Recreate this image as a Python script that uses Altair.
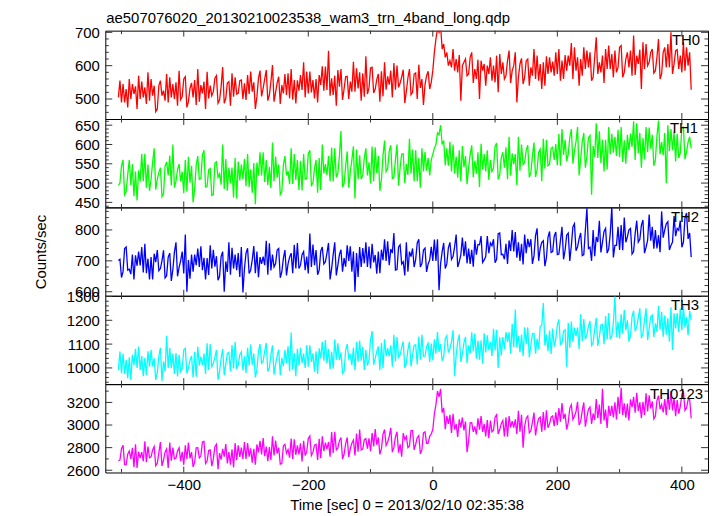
import altair as alt
import pandas as pd

# ---------------- data ----------------
# two samples per 5 s bin: a first sample at t = -505 + 5k and a second one 2.5 s later
T_START = -505
T_STEP = 5

th0 = [505, 545, 490, 560, 500, 538, 470, 552, 505, 580, 495, 540, 462, 555, 510, 575, 490, 545, 500, 585,
       498, 560, 475, 548, 505, 590, 492, 552, 470, 540, 510, 570, 488, 596, 502, 548, 480, 565, 515, 555,
       500, 572, 515, 550, 470, 585, 508, 560, 495, 602, 520, 548, 485, 575, 512, 590, 498, 556, 525, 610,
       505, 582, 520, 560, 490, 598, 525, 645, 510, 570, 480, 590, 530, 568, 500, 612, 522, 580, 495, 628,
       515, 595, 530, 575, 492, 610, 528, 585, 505, 600, 535, 566, 488, 590, 520, 575, 500, 560, 482, 570,
       530, 585, 680, 720, 665, 640, 600, 650, 585, 632, 495, 620, 575, 640, 548, 618, 500, 605, 540, 625,
       555, 630, 520, 610, 570, 645, 548, 600, 490, 622, 565, 615, 540, 650, 560, 605, 530, 628, 575, 612,
       570, 650, 555, 632, 585, 668, 560, 625, 540, 655, 590, 640, 565, 685, 575, 630, 548, 660, 590, 645,
       580, 660, 565, 640, 595, 690, 572, 648, 530, 665, 600, 640, 578, 680, 560, 655, 595, 700, 575, 648,
       590, 670, 585, 640, 528]
th0_mid = [555, 490, 530, 475, 545, 515, 570, 500, 535, 485, 560, 510, 470, 540, 525, 495, 565, 505, 550, 480,
           507, 567, 492, 532, 557, 482, 542, 517, 582, 502, 522, 562, 497, 537, 487, 552, 577, 507, 517, 557,
           547, 497, 582, 522, 507, 562, 532, 587, 512, 552, 492, 567, 542, 517, 577, 502, 557, 487, 572, 527,
           582, 517, 557, 502, 572, 542, 597, 527, 562, 512, 587, 537, 497, 567, 552, 522, 592, 532, 577, 507,
           533, 593, 518, 558, 583, 508, 568, 543, 608, 528, 548, 588, 523, 563, 513, 578, 603, 533, 543, 583,
           550, 640, 710, 700, 650, 625, 615, 595, 620, 580, 600, 610, 570, 625, 590, 560, 615, 585, 600, 575,
           600, 550, 635, 575, 560, 615, 585, 640, 565, 605, 545, 620, 595, 570, 630, 555, 610, 540, 625, 580,
           640, 575, 615, 560, 630, 600, 655, 585, 620, 570, 645, 595, 555, 625, 610, 580, 650, 590, 635, 565,
           595, 655, 580, 620, 645, 570, 630, 605, 670, 590, 610, 650, 585, 625, 575, 640, 665, 595, 605, 645,
           630, 580, 655, 600]

th1 = [500, 545, 470, 560, 495, 530, 455, 575, 505, 548, 480, 590, 510, 540, 465, 555, 520, 600, 488, 535,
       505, 560, 478, 545, 450, 570, 510, 585, 492, 538, 470, 555, 515, 600, 485, 540, 500, 565, 460, 548,
       510, 575, 490, 552, 445, 580, 520, 560, 495, 605, 505, 548, 478, 570, 520, 590, 498, 560, 482, 575,
       512, 585, 500, 560, 475, 600, 525, 570, 505, 590, 515, 635, 490, 582, 528, 595, 460, 572, 510, 590,
       520, 595, 505, 570, 480, 610, 530, 582, 512, 600, 540, 575, 500, 615, 525, 585, 505, 590, 530, 565,
       520, 575, 600, 650, 610, 590, 545, 600, 525, 585, 505, 570, 540, 598, 515, 580, 490, 575, 530, 560,
       530, 595, 510, 580, 540, 620, 520, 575, 495, 600, 548, 585, 515, 605, 535, 580, 505, 612, 545, 590,
       560, 628, 545, 612, 575, 640, 550, 608, 520, 630, 570, 618, 470, 655, 565, 612, 530, 645, 575, 620,
       570, 645, 555, 625, 585, 660, 560, 630, 540, 645, 580, 625, 560, 662, 575, 630, 500, 640, 585, 628,
       565, 645, 580, 620, 590]
th1_mid = [494, 560, 478, 522, 549, 466, 533, 505, 576, 488, 510, 554, 483, 527, 472, 544, 571, 494, 505, 549,
           529, 474, 568, 501, 485, 546, 512, 573, 490, 535, 468, 551, 524, 496, 562, 480, 540, 463, 556, 507,
           563, 492, 536, 475, 553, 519, 580, 503, 542, 487, 569, 514, 470, 547, 531, 497, 575, 508, 558, 481,
           510, 576, 494, 538, 565, 482, 549, 521, 592, 504, 526, 570, 499, 543, 488, 560, 587, 510, 521, 565,
           554, 499, 593, 526, 510, 571, 537, 598, 515, 560, 493, 576, 549, 521, 587, 505, 565, 488, 581, 532,
           560, 590, 630, 625, 600, 546, 607, 530, 569, 514, 596, 541, 497, 574, 558, 524, 602, 535, 585, 508,
           538, 604, 522, 566, 593, 510, 577, 549, 620, 532, 554, 598, 527, 571, 516, 588, 615, 538, 549, 593,
           601, 546, 640, 573, 557, 618, 584, 645, 562, 607, 540, 623, 596, 568, 634, 552, 612, 535, 628, 579,
           638, 567, 611, 550, 628, 594, 655, 578, 617, 562, 644, 589, 545, 622, 606, 572, 650, 583, 633, 556,
           578, 644, 562, 606]

th2 = [705, 665, 745, 670, 720, 640, 730, 685, 755, 660, 712, 640, 735, 675, 700, 645, 725, 672, 760, 650,
       700, 785, 600, 720, 665, 740, 680, 710, 640, 750, 675, 715, 650, 730, 600, 760, 655, 720, 670, 745,
       598, 725, 670, 748, 660, 712, 690, 765, 655, 720, 680, 740, 645, 735, 690, 712, 660, 758, 675, 720,
       670, 788, 680, 735, 655, 745, 690, 725, 640, 760, 685, 720, 665, 750, 700, 730, 600, 745, 680, 760,
       680, 755, 695, 730, 660, 770, 700, 738, 790, 672, 745, 690, 760, 665, 740, 705, 770, 680, 735, 690,
       745, 700, 770, 605, 730, 690, 760, 705, 745, 680, 775, 715, 740, 690, 768, 720, 752, 695, 780, 725,
       770, 705, 790, 720, 755, 690, 800, 730, 760, 700, 785, 725, 770, 690, 805, 740, 765, 710, 795, 730,
       780, 720, 810, 735, 790, 700, 820, 745, 790, 720, 870, 740, 800, 715, 830, 760, 795, 725, 875, 750,
       810, 735, 840, 760, 800, 730, 830, 770, 815, 725, 850, 765, 800, 740, 860, 775, 820, 735, 845, 780,
       830, 760, 855, 790, 712]
th2_mid = [701, 646, 740, 673, 657, 718, 684, 745, 662, 707, 640, 723, 696, 668, 734, 652, 712, 635, 728, 679,
           730, 659, 703, 642, 720, 686, 747, 670, 709, 654, 736, 681, 637, 714, 698, 664, 742, 675, 725, 648,
           675, 741, 659, 703, 730, 647, 714, 686, 757, 669, 691, 735, 664, 708, 653, 725, 752, 675, 686, 730,
           714, 659, 753, 686, 670, 731, 697, 758, 675, 720, 653, 736, 709, 681, 747, 665, 725, 648, 741, 692,
           746, 675, 719, 658, 736, 702, 763, 686, 725, 670, 752, 697, 653, 730, 714, 680, 758, 691, 741, 664,
           703, 769, 700, 690, 758, 675, 742, 714, 785, 697, 719, 763, 692, 736, 681, 753, 780, 703, 714, 758,
           749, 694, 788, 721, 705, 766, 732, 793, 710, 755, 688, 771, 744, 716, 782, 700, 760, 683, 776, 727,
           793, 722, 766, 705, 783, 749, 810, 733, 772, 717, 799, 744, 700, 777, 761, 727, 805, 738, 788, 711,
           750, 816, 734, 778, 805, 722, 789, 761, 832, 744, 766, 810, 739, 783, 728, 800, 827, 750, 761, 805,
           799, 744, 838, 771]

th3 = [990, 1060, 975, 1045, 950, 1080, 1000, 1050, 965, 1070, 1005, 1040, 980, 1085, 945, 1135, 1000, 1060, 975, 1055,
       985, 1075, 1000, 1050, 960, 1090, 1010, 1060, 975, 1100, 1005, 1045, 950, 1080, 1015, 1065, 985, 1110, 1000, 1055,
       990, 1085, 1010, 1060, 960, 1100, 1020, 1070, 985, 1095, 1015, 1050, 970, 1075, 1020, 1149, 995, 1080, 1010, 1060,
       1000, 1095, 1025, 1070, 975, 1110, 1030, 1080, 995, 1120, 1035, 1065, 985, 1100, 1040, 1085, 990, 1115, 1030, 1075,
       1010, 1155, 1040, 1090, 990, 1120, 1050, 1095, 1005, 1130, 1045, 1085, 1000, 1110, 1055, 1095, 1015, 1140, 1050, 1090,
       1025, 1120, 1060, 1100, 1030, 1135, 1065, 1110, 965, 1140, 1060, 1105, 1020, 1150, 1070, 1115, 1035, 1145, 1065, 1110,
       1050, 1160, 1000, 1130, 1080, 1150, 1060, 1245, 1085, 1140, 1050, 1170, 1095, 1145, 1060, 1175, 1272, 1140, 1070, 1165,
       1090, 1180, 1105, 1160, 1005, 1195, 1110, 1170, 1080, 1205, 1120, 1175, 1095, 1210, 1130, 1180, 1100, 1230, 1120, 1300,
       1130, 1225, 1145, 1200, 1110, 1240, 1155, 1210, 1125, 1250, 1165, 1215, 1130, 1260, 1160, 1220, 1140, 1255, 1075, 1230,
       1150, 1260, 1170, 1240, 1200]
th3_mid = [1069, 978, 1034, 957, 1055, 1013, 1090, 992, 1041, 971, 1076, 1006, 950, 1048, 1027, 985, 1083, 999, 1062, 964,
           998, 1082, 977, 1033, 1068, 963, 1047, 1012, 1103, 991, 1019, 1075, 984, 1040, 970, 1061, 1096, 998, 1012, 1068,
           1049, 979, 1098, 1014, 993, 1070, 1028, 1105, 1000, 1056, 972, 1077, 1042, 1007, 1091, 986, 1063, 965, 1084, 1021,
           1096, 1005, 1061, 984, 1082, 1040, 1117, 1019, 1068, 998, 1103, 1033, 977, 1075, 1054, 1012, 1110, 1026, 1089, 991,
           1034, 1118, 1013, 1069, 1104, 999, 1083, 1048, 1139, 1027, 1055, 1111, 1020, 1076, 1006, 1097, 1132, 1034, 1048, 1104,
           1102, 1032, 1151, 1067, 1046, 1123, 1081, 1158, 1053, 1109, 1025, 1130, 1095, 1060, 1144, 1039, 1116, 1018, 1137, 1074,
           1164, 1073, 1129, 1052, 1150, 1108, 1185, 1087, 1136, 1066, 1171, 1101, 1045, 1143, 1122, 1080, 1178, 1094, 1157, 1059,
           1120, 1204, 1099, 1155, 1190, 1085, 1169, 1134, 1225, 1113, 1141, 1197, 1106, 1162, 1092, 1183, 1218, 1120, 1134, 1190,
           1194, 1124, 1243, 1159, 1138, 1215, 1173, 1250, 1145, 1201, 1117, 1222, 1187, 1152, 1236, 1131, 1208, 1110, 1229, 1166,
           1249, 1158, 1214, 1137]

th0123 = [2690, 2790, 2650, 2770, 2700, 2830, 2620, 2760, 2680, 2810, 2710, 2780, 2640, 2850, 2690, 2760, 2620, 2800, 2700, 2770,
          2680, 2820, 2700, 2760, 2630, 2800, 2710, 2850, 2660, 2780, 2700, 2830, 2610, 2790, 2720, 2760, 2650, 2840, 2690, 2800,
          2700, 2840, 2720, 2790, 2650, 2860, 2740, 2810, 2680, 2900, 2730, 2800, 2660, 2830, 2750, 2880, 2700, 2820, 2740, 2860,
          2730, 2880, 2760, 2830, 2690, 2900, 2770, 2850, 2720, 2940, 2780, 2860, 2700, 2890, 2790, 2840, 2730, 2960, 2780, 2870,
          2790, 2930, 2810, 2890, 2740, 2960, 2820, 2900, 2760, 2940, 2830, 2720, 2900, 2800, 2950, 2830, 2890, 2780, 2930, 2840,
          2900, 2960, 3180, 3320, 3150, 3080, 3010, 3100, 2960, 3050, 2980, 3030, 2760, 3020, 2940, 3060, 2960, 3010, 2900, 3040,
          2940, 3070, 2960, 3040, 2900, 3080, 2980, 3050, 2920, 3090, 2800, 3060, 2950, 3110, 3000, 3070, 2940, 3130, 3010, 3080,
          2990, 3150, 3030, 3100, 2960, 3180, 3050, 3120, 3000, 3200, 3070, 3140, 3010, 3230, 3060, 3320, 3040, 3170, 3080, 3200,
          3050, 3330, 3090, 3190, 3040, 3250, 3110, 3200, 3060, 3280, 3120, 3210, 3080, 3260, 3140, 3230, 3090, 3300, 3130, 3220,
          3100, 3270, 3150, 3230, 3060]
th0123_mid = [2684, 2822, 2650, 2742, 2799, 2626, 2765, 2707, 2857, 2672, 2718, 2810, 2661, 2753, 2638, 2788, 2845, 2684, 2707, 2799,
              2763, 2648, 2844, 2705, 2671, 2798, 2728, 2855, 2682, 2775, 2636, 2809, 2752, 2694, 2832, 2660, 2786, 2625, 2820, 2717,
              2850, 2701, 2793, 2666, 2828, 2758, 2885, 2724, 2805, 2690, 2862, 2747, 2655, 2816, 2782, 2712, 2874, 2735, 2839, 2678,
              2764, 2902, 2730, 2822, 2879, 2706, 2845, 2787, 2937, 2752, 2798, 2890, 2741, 2833, 2718, 2868, 2925, 2764, 2787, 2879,
              2883, 2768, 2964, 2825, 2791, 2918, 2848, 2975, 2802, 2895, 2756, 2929, 2872, 2814, 2952, 2780, 2906, 2745, 2940, 2837,
              2920, 3100, 3300, 3250, 3110, 2963, 3090, 2929, 3010, 2895, 3067, 2952, 2860, 3021, 2987, 2917, 3079, 2940, 3044, 2883,
              2954, 3092, 2920, 3012, 3069, 2896, 3035, 2977, 3127, 2942, 2988, 3080, 2931, 3023, 2908, 3058, 3115, 2954, 2977, 3069,
              3113, 2998, 3194, 3055, 3021, 3148, 3078, 3205, 3032, 3125, 2986, 3159, 3102, 3044, 3182, 3010, 3136, 2975, 3170, 3067,
              3250, 3101, 3193, 3066, 3228, 3158, 3285, 3124, 3205, 3090, 3262, 3147, 3055, 3216, 3182, 3112, 3274, 3135, 3239, 3078,
              3164, 3302, 3130, 3222]

names = ["TH0", "TH1", "TH2", "TH3", "TH0123"]
series = [th0, th1, th2, th3, th0123]
series_mid = [th0_mid, th1_mid, th2_mid, th3_mid, th0123_mid]
colors = ["#ff0000", "#00ff00", "#0000ff", "#00ffff", "#ff00ff"]
y_domains = [[440, 705], [437, 666], [587, 873], [932, 1303], [2580, 3362]]
y_major = [[500, 600, 700], [450, 500, 550, 600, 650], [600, 700, 800],
           [1000, 1100, 1200, 1300], [2600, 2800, 3000, 3200]]
y_minor_step = [20, 10, 20, 20, 100]

x_major = [-400, -200, 0, 200, 400]
x_minor = [-500, -300, -100, 100, 300]
x_domain = [-526, 442]

title_text = "ae507076020_20130210023538_wam3_trn_4band_long.qdp"
x_title = "Time [sec] 0 = 2013/02/10 02:35:38"
y_title = "Counts/sec"

# ---------------- layout / style ----------------
W, H = 607, 89
FONT = "Liberation Sans"
FS = 15
TICK = "#333333"
label_dx = [8, 10, 9, 9, 5]


def minor_ticks(dom, step, majors):
    start = (int(dom[0]) // step + 1) * step
    return [v for v in range(start, int(dom[1]) + 1, step) if v not in majors]


def panel(i):
    main = series[i]
    mid = series_mid[i]
    # within each 5 s bin the two samples are drawn low first, then high,
    # so the trace swings up and down on every 2.5 s step like the 1 s light curve
    rows = []
    for k in range(len(main)):
        t0 = T_START + T_STEP * k
        if k < len(mid):
            lo, hi = min(main[k], mid[k]), max(main[k], mid[k])
            rows.append((t0, lo))
            rows.append((t0 + T_STEP / 2, hi))
        else:
            rows.append((t0, main[k]))
    df = pd.DataFrame(rows, columns=["t", "v"])
    xs = alt.Scale(domain=x_domain, nice=False, zero=False)
    ys = alt.Scale(domain=y_domains[i], nice=False, zero=False)
    bottom = i == len(series) - 1
    if bottom:
        xaxis = alt.Axis(values=x_major, ticks=False, domain=False, grid=False,
                         labelFontSize=FS, labelFont=FONT, labelColor="black", labelPadding=5,
                         title=x_title, titleFontSize=FS, titleFont=FONT, titleFontWeight="normal",
                         titleColor="black", titlePadding=5)
    else:
        xaxis = None
    ykw = dict(values=y_major[i], ticks=False, domain=False, grid=False, format="d",
               labelFontSize=FS, labelFont=FONT, labelColor="black", labelPadding=6,
               labelOverlap=False)
    if i == 2:
        ykw.update(title=y_title, titleFontSize=FS, titleFont=FONT, titleFontWeight="normal",
                   titleColor="black", titleX=-65, titleY=H / 2, titleAlign="center",
                   titleBaseline="middle")
    else:
        ykw.update(title=None)
    yaxis = alt.Axis(**ykw)

    line = alt.Chart(df).mark_line(color=colors[i], strokeWidth=1.3, clip=True).encode(
        x=alt.X("t:Q", scale=xs, axis=xaxis),
        y=alt.Y("v:Q", scale=ys, axis=yaxis),
        order="t:Q",
    )

    layers = [line]
    ymin = minor_ticks(y_domains[i], y_minor_step[i], y_major[i])
    ymaj = [v for v in y_major[i] if y_domains[i][0] <= v <= y_domains[i][1]]
    for vals_, ln in ((ymaj, 7), (ymin, 3.5)):
        tdf = pd.DataFrame({"v": vals_})
        for x0, x1 in ((0, ln), (W, W - ln)):
            layers.append(alt.Chart(tdf).mark_rule(color=TICK, strokeWidth=1).encode(
                y=alt.Y("v:Q", scale=ys, axis=yaxis), x=alt.value(x0), x2=alt.value(x1)))
    for vals_, ln in ((x_major, 6), (x_minor, 3.5)):
        tdf = pd.DataFrame({"t": vals_})
        for y0, y1 in ((0, ln), (H, H - ln)):
            layers.append(alt.Chart(tdf).mark_rule(color=TICK, strokeWidth=1).encode(
                x=alt.X("t:Q", scale=xs, axis=xaxis), y=alt.value(y0), y2=alt.value(y1)))

    lab = alt.Chart(pd.DataFrame({"s": [names[i]]})).mark_text(
        align="right", baseline="middle", fontSize=FS, font=FONT, color="black").encode(
        x=alt.value(W - label_dx[i]), y=alt.value(9.5), text="s:N")
    layers.append(lab)

    if i == 0:
        ttl = alt.Chart(pd.DataFrame({"s": [title_text]})).mark_text(
            align="left", baseline="middle", fontSize=FS, font=FONT, color="black").encode(
            x=alt.value(1), y=alt.value(-13), text="s:N")
        layers.append(ttl)

    return alt.layer(*layers).properties(width=W, height=H)


chart = alt.vconcat(*[panel(i) for i in range(len(series))], spacing=0, bounds="flush").properties(
    padding={"left": 25, "top": 0, "right": 0, "bottom": 0},
    background="white",
).configure_view(stroke="black", strokeWidth=1)

chart.save("out.html", embed_options={"renderer": "svg", "actions": False})
